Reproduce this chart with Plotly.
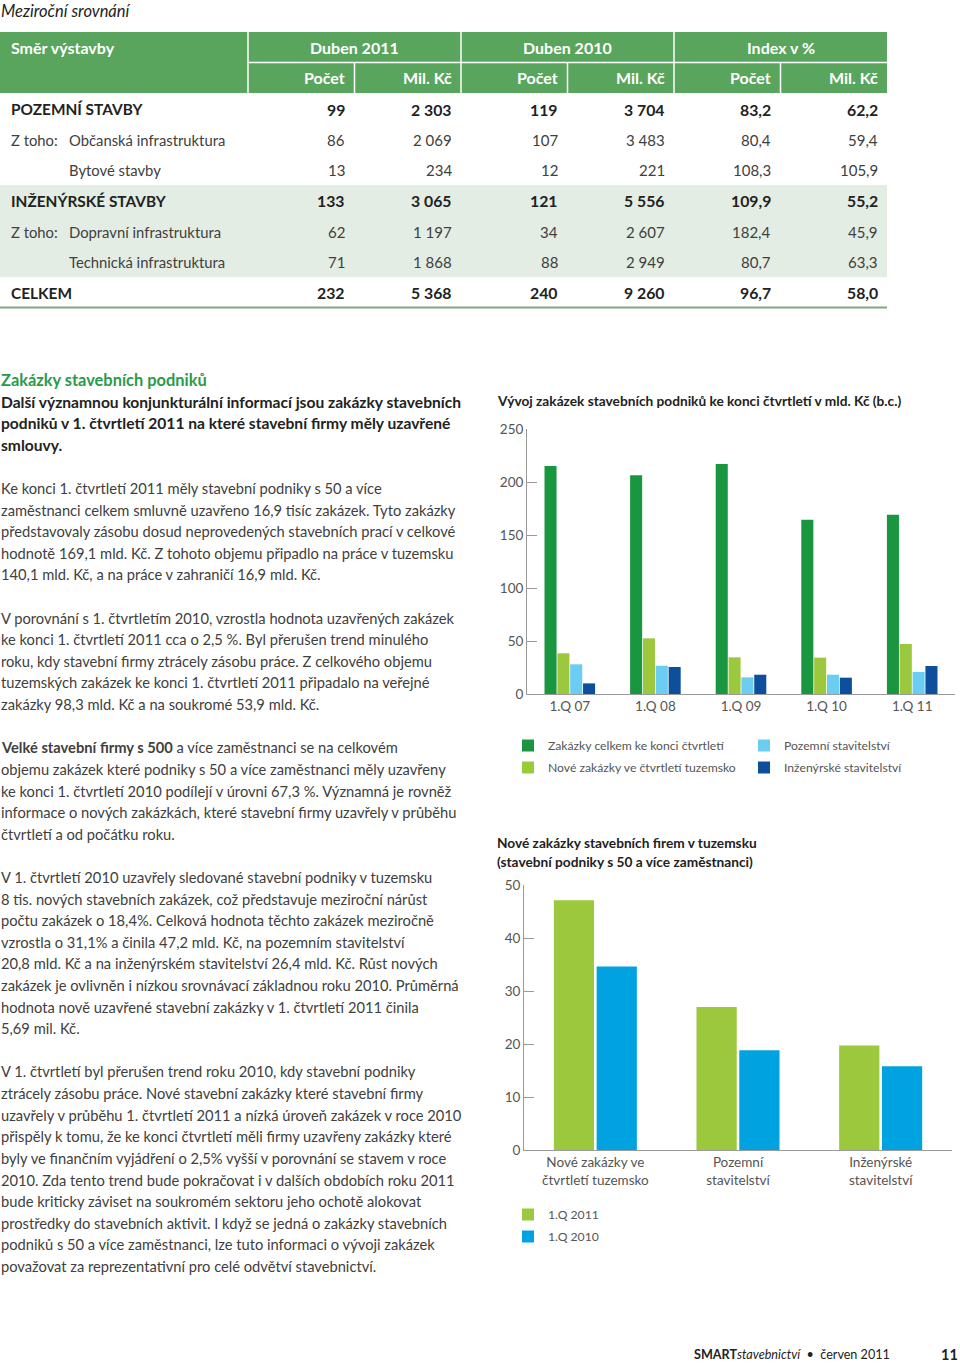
import plotly.graph_objects as go

W, H = 960, 1364
FONT = "Lato"

# ---------------- table data ----------------
table_title = "Meziroční srovnání"
first_header = "Směr výstavby"
header_groups = ["Duben 2011", "Duben 2010", "Index v %"]
header_sub = ["Počet", "Mil. Kč"]
row_labels = ["POZEMNÍ STAVBY", "Občanská infrastruktura", "Bytové stavby",
              "INŽENÝRSKÉ STAVBY", "Dopravní infrastruktura", "Technická infrastruktura",
              "CELKEM"]
row_prefix = ["", "Z toho:", "", "", "Z toho:", "", ""]
row_bold = [True, False, False, True, False, False, True]
pocet_2011 = [99, 86, 13, 133, 62, 71, 232]
mil_2011 = [2303, 2069, 234, 3065, 1197, 1868, 5368]
pocet_2010 = [119, 107, 12, 121, 34, 88, 240]
mil_2010 = [3704, 3483, 221, 5556, 2607, 2949, 9260]
index_pocet = [83.2, 80.4, 108.3, 109.9, 182.4, 80.7, 96.7]
index_mil = [62.2, 59.4, 105.9, 55.2, 45.9, 63.3, 58.0]

# ---------------- chart 1 data ----------------
chart1_title = "Vývoj zakázek stavebních podniků ke konci čtvrtletí v mld. Kč (b.c.)"
quarters = ["1.Q 07", "1.Q 08", "1.Q 09", "1.Q 10", "1.Q 11"]
zakazky_celkem = [215.0, 206.3, 217.0, 164.5, 169.1]
nove_tuzemsko = [38.4, 52.5, 34.6, 34.3, 47.2]
pozemni_stav = [28.0, 26.7, 15.7, 18.2, 20.8]
inzenyrske_stav = [10.0, 25.5, 18.2, 15.4, 26.4]
series1_names = ["Zakázky celkem ke konci čtvrtletí", "Nové zakázky ve čtvrtletí tuzemsko",
                 "Pozemní stavitelství", "Inženýrské stavitelství"]

# ---------------- chart 2 data ----------------
chart2_title = ["Nové zakázky stavebních firem v tuzemsku",
                "(stavební podniky s 50 a více zaměstnanci)"]
categories2 = ["Nové zakázky ve<br>čtvrtletí tuzemsko", "Pozemní<br>stavitelství",
               "Inženýrské<br>stavitelství"]
q1_2011 = [47.1, 27.0, 19.7]
q1_2010 = [34.6, 18.8, 15.8]
series2_names = ["1.Q 2011", "1.Q 2010"]

# ---------------- text ----------------
heading = "Zakázky stavebních podniků"
intro_lines = ["Další významnou konjunkturální informací jsou zakázky stavebních",
               "podniků v 1. čtvrtletí 2011 na které stavební firmy měly uzavřené",
               "smlouvy."]
body_lines = [
    "Ke konci 1. čtvrtletí 2011 měly stavební podniky s 50 a více",
    "zaměstnanci celkem smluvně uzavřeno 16,9 tisíc zakázek. Tyto zakázky",
    "představovaly zásobu dosud neprovedených stavebních prací v celkové",
    "hodnotě 169,1 mld. Kč. Z tohoto objemu připadlo na práce v tuzemsku",
    "140,1 mld. Kč, a na práce v zahraničí 16,9 mld. Kč.",
    "",
    "V porovnání s 1. čtvrtletím 2010, vzrostla hodnota uzavřených zakázek",
    "ke konci 1. čtvrtletí 2011 cca o 2,5 %. Byl přerušen trend minulého",
    "roku, kdy stavební firmy ztrácely zásobu práce. Z celkového objemu",
    "tuzemských zakázek ke konci 1. čtvrtletí 2011 připadalo na veřejné",
    "zakázky 98,3 mld. Kč a na soukromé 53,9 mld. Kč.",
    "",
    "<b>Velké stavební firmy s 500</b> a více zaměstnanci se na celkovém",
    "objemu zakázek které podniky s 50 a více zaměstnanci měly uzavřeny",
    "ke konci 1. čtvrtletí 2010 podílejí v úrovni 67,3 %. Významná je rovněž",
    "informace o nových zakázkách, které stavební firmy uzavřely v průběhu",
    "čtvrtletí a od počátku roku.",
    "",
    "V 1. čtvrtletí 2010 uzavřely sledované stavební podniky v tuzemsku",
    "8 tis. nových stavebních zakázek, což představuje meziroční nárůst",
    "počtu zakázek o 18,4%. Celková hodnota těchto zakázek meziročně",
    "vzrostla o 31,1% a činila 47,2 mld. Kč, na pozemním stavitelství",
    "20,8 mld. Kč a na inženýrském stavitelství 26,4 mld. Kč. Růst nových",
    "zakázek je ovlivněn i nízkou srovnávací základnou roku 2010. Průměrná",
    "hodnota nově uzavřené stavební zakázky v 1. čtvrtletí 2011 činila",
    "5,69 mil. Kč.",
    "",
    "V 1. čtvrtletí byl přerušen trend roku 2010, kdy stavební podniky",
    "ztrácely zásobu práce. Nové stavební zakázky které stavební firmy",
    "uzavřely v průběhu 1. čtvrtletí 2011 a nízká úroveň zakázek v roce 2010",
    "přispěly k tomu, že ke konci čtvrtletí měli firmy uzavřeny zakázky které",
    "byly ve finančním vyjádření o 2,5% vyšší v porovnání se stavem v roce",
    "2010. Zda tento trend bude pokračovat i v dalších obdobích roku 2011",
    "bude kriticky záviset na soukromém sektoru jeho ochotě alokovat",
    "prostředky do stavebních aktivit. I když se jedná o zakázky stavebních",
    "podniků s 50 a více zaměstnanci, lze tuto informaci o vývoji zakázek",
    "považovat za reprezentativní pro celé odvětví stavebnictví.",
]
footer_text = "<b>SMART</b><i>stavebnictví</i>  •  červen 2011"
page_number = "11"

# ---------------- colours ----------------
HEADER_GREEN = "#59a55d"
BAND_GREEN = "#e3ede3"
TEXT_DARK = "#222222"
TEXT_BODY = "#404040"
AXIS_GRAY = "#9a9a9a"
c1_colors = ["#19963f", "#9cc83d", "#6ccdf3", "#0d4f9c"]
c2_colors = ["#9cc83d", "#00a3e0"]


def X(px):
    return px / W


def Y(py):
    return 1 - py / H


annotations = []
shapes = []


def ann(text, x, y, size=14, color=TEXT_BODY, anchor="left", family=FONT):
    annotations.append(dict(text=text, x=X(x), y=Y(y), xref="paper", yref="paper",
                            xanchor=anchor, yanchor="middle", showarrow=False,
                            align=anchor, font=dict(family=family, size=size, color=color)))


def rect(x0, y0, x1, y1, color):
    shapes.append(dict(type="rect", xref="paper", yref="paper", x0=X(x0), x1=X(x1),
                       y0=Y(y1), y1=Y(y0), fillcolor=color, line=dict(width=0),
                       layer="below"))


def line(x0, y0, x1, y1, color, width=1):
    shapes.append(dict(type="line", xref="paper", yref="paper", x0=X(x0), x1=X(x1),
                       y0=Y(y0), y1=Y(y1), line=dict(color=color, width=width)))


def fmt_int(v):
    return f"{v:,}".replace(",", " ")


def fmt_dec(v):
    return f"{v:.1f}".replace(".", ",")


# ---------------- table ----------------
ann("<i>" + table_title + "</i>", -1, 11, size=16.5, color=TEXT_DARK)

TBL_L, TBL_R = 0, 887
HDR_T, HDR_M, HDR_B = 32, 62.5, 93
group_edges = [248, 461, 674, 887]
rect(TBL_L, HDR_T, TBL_R, HDR_B, HEADER_GREEN)
row_y = [109 + i * 30.65 for i in range(len(row_labels))]
rect(TBL_L, 185, TBL_R, 277, BAND_GREEN)
line(TBL_L, 307.5, TBL_R, 307.5, "#7ea882", 2)

for gx in group_edges[:-1]:
    line(gx, HDR_T, gx, HDR_B, "white", 1.5)
line(group_edges[0], HDR_M, TBL_R, HDR_M, "white", 1.5)

HSIZE = 16
ann("<b>" + first_header + "</b>", 9, 48, size=HSIZE, color="white")
col_right = []
for g, name in enumerate(header_groups):
    gl, gr = group_edges[g], group_edges[g + 1]
    mid = (gl + gr) / 2
    ann("<b>" + name + "</b>", mid, 48, size=HSIZE, color="white", anchor="center")
    line(mid, HDR_M, mid, HDR_B, "white", 1.5)
    col_right += [mid - 8, gr - 7]
    ann("<b>" + header_sub[0] + "</b>", mid - 8, 78, size=HSIZE, color="white", anchor="right")
    ann("<b>" + header_sub[1] + "</b>", gr - 7, 78, size=HSIZE, color="white", anchor="right")

columns = [[fmt_int(v) for v in pocet_2011], [fmt_int(v) for v in mil_2011],
           [fmt_int(v) for v in pocet_2010], [fmt_int(v) for v in mil_2010],
           [fmt_dec(v) for v in index_pocet], [fmt_dec(v) for v in index_mil]]

for i, lab in enumerate(row_labels):
    y = row_y[i]
    if row_bold[i]:
        ann("<b>" + lab + "</b>", 9, y, size=15.4, color=TEXT_DARK)
    else:
        if row_prefix[i]:
            ann(row_prefix[i], 9, y, size=14.8, color=TEXT_BODY)
        ann(lab, 67, y, size=14.8, color=TEXT_BODY)
    for c, vals in enumerate(columns):
        if row_bold[i]:
            ann("<b>" + vals[i] + "</b>", col_right[c], y, size=15.8, color=TEXT_DARK, anchor="right")
        else:
            ann(vals[i], col_right[c], y, size=15, color=TEXT_BODY, anchor="right")

# ---------------- left column text ----------------
ann("<b>" + heading + "</b>", -1, 380, size=16.4, color="#2b9a4b")
for k, t in enumerate(intro_lines):
    ann("<b>" + t + "</b>", -1, 401.5 + k * 21.7, size=15.6, color=TEXT_DARK)
for k, t in enumerate(body_lines):
    if t:
        ann(t, -1, 488 + k * 21.61, size=14.7, color=TEXT_BODY)

# ---------------- chart titles ----------------
ann("<b>" + chart1_title + "</b>", 495, 401, size=13.7, color=TEXT_DARK)
ann("<b>" + chart2_title[0] + "</b>", 495, 842, size=13.7, color=TEXT_DARK)
ann("<b>" + chart2_title[1] + "</b>", 495, 861, size=13.7, color=TEXT_DARK)

# ---------------- footer ----------------
ann(footer_text, 892, 1354, size=12.6, color=TEXT_DARK, anchor="right")
ann("<b>" + page_number + "</b>", 960, 1354, size=14.5, color=TEXT_DARK, anchor="right")

# ---------------- charts ----------------
fig = go.Figure()
series1 = [zakazky_celkem, nove_tuzemsko, pozemni_stav, inzenyrske_stav]
legend_of = ["legend", "legend", "legend2", "legend2"]
for s, vals in enumerate(series1):
    fig.add_trace(go.Bar(x=quarters, y=vals, name=series1_names[s], marker_color=c1_colors[s],
                         marker_line_width=0, xaxis="x", yaxis="y", legend=legend_of[s],
                         legendgroup=f"g1_{s}", hoverinfo="skip"))
for s, vals in enumerate([q1_2011, q1_2010]):
    fig.add_trace(go.Bar(x=categories2, y=vals, name=series2_names[s], marker_color=c2_colors[s],
                         marker_line_width=0, xaxis="x2", yaxis="y2", legend="legend3",
                         legendgroup=f"g2_{s}", hoverinfo="skip"))

axis_font = dict(family=FONT, size=13.5, color="#555555")
common_x = dict(type="category", showline=True, linecolor=AXIS_GRAY, linewidth=1,
                showgrid=False, zeroline=False, ticks="", tickfont=axis_font, fixedrange=True,
                automargin=False)
common_y = dict(showline=True, linecolor=AXIS_GRAY, linewidth=1, showgrid=False,
                zeroline=False, ticks="inside", ticklen=10, tickcolor=AXIS_GRAY,
                tickfont=axis_font, fixedrange=True, automargin=False)

legend_common = dict(orientation="v", xanchor="left", yanchor="top",
                     font=dict(family=FONT, size=12.2, color="#555555"),
                     bgcolor="rgba(0,0,0,0)", tracegroupgap=3, itemclick=False,
                     itemdoubleclick=False)

fig.update_layout(
    width=W, height=H, autosize=False,
    margin=dict(l=0, r=0, t=0, b=0, pad=0, autoexpand=False),
    paper_bgcolor="white", plot_bgcolor="white",
    font=dict(family=FONT, color=TEXT_BODY),
    barmode="group", bargap=0.4, bargroupgap=0.06,
    xaxis=dict(domain=[X(527), X(955)], anchor="y", range=[-0.5, 4.5], **common_x),
    yaxis=dict(domain=[Y(694), Y(429)], anchor="x", range=[0, 250], dtick=50, **common_y),
    xaxis2=dict(domain=[X(524), X(952)], anchor="y2", range=[-0.5, 2.5], **common_x),
    yaxis2=dict(domain=[Y(1150), Y(885)], anchor="x2", range=[0, 50], dtick=10, **common_y),
    legend=dict(x=X(508), y=Y(731), **legend_common),
    legend2=dict(x=X(744), y=Y(731), **legend_common),
    legend3=dict(x=X(508), y=Y(1200), **legend_common),
    annotations=annotations,
    shapes=shapes,
)

page_fix = (
    "document.documentElement.style.margin='0';"
    "document.documentElement.style.padding='0';"
    "document.documentElement.style.overflow='hidden';"
    "document.body.style.margin='0';"
    "document.body.style.padding='0';"
    "document.body.style.overflow='hidden';"
    "var gd=document.getElementById('{plot_id}');"
    "gd.style.position='absolute';gd.style.left='0px';gd.style.top='0px';"
)

fig.write_html("out.html", config={"displayModeBar": False}, post_script=page_fix)
